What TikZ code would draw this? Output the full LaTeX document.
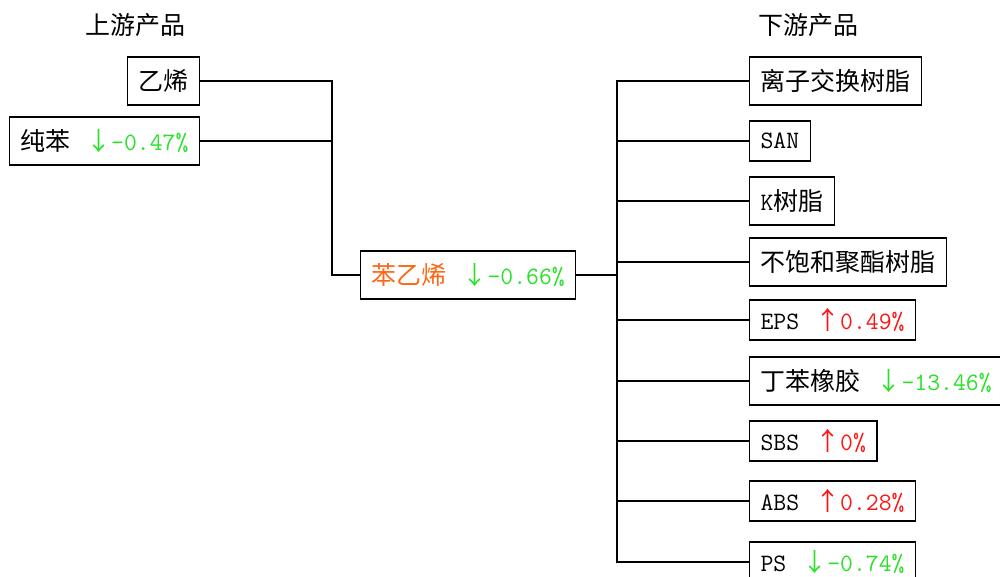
\documentclass[tikz,border=0pt]{standalone}
\usepackage{fontspec}
\newfontfamily\cjk{Noto Sans CJK SC}
\definecolor{upred}{RGB}{255,20,20}
\definecolor{dngreen}{RGB}{40,225,40}
\definecolor{keyorange}{RGB}{255,102,20}
\newcommand\zh[1]{{\cjk\fontsize{25}{25}\selectfont #1}}
\newcommand\dn[1]{\hspace{16pt}{\color{dngreen}\zh{↓}#1}}
\newcommand\up[1]{\hspace{16pt}{\color{upred}\zh{↑}#1}}

\begin{document}
\begin{tikzpicture}[x=1pt, y=-1pt, line width=1.2pt,
    prod/.style={draw, line width=1.2pt, minimum height=40pt, inner xsep=11pt,
                 font=\ttfamily\fontsize{25}{25}\selectfont},
    tall/.style={minimum height=48pt},
    head/.style={font=\cjk\fontsize{25}{25}\selectfont}]
\useasboundingbox (0,0) rectangle (1000,576);

\node[head] (up) at (135,25) {上游产品};
\node[head] (down) at (808,25) {下游产品};

% upstream
\node[prod, tall, anchor=east] (yixi) at (200,81) {\zh{乙烯}};
\node[prod, tall, anchor=east] (chunben) at (200,141) {\zh{纯苯}\dn{-0.47\%}};
% styrene
\node[prod, tall, anchor=west] (sm) at (360,275) {{\color{keyorange}\zh{苯乙烯}}\dn{-0.66\%}};

% downstream
\foreach \n/\y/\s/\t in {d1/81/tall/{\zh{离子交换树脂}},
                        d2/141/prod/{SAN},
                        d3/201/tall/{K\zh{树脂}},
                        d4/262/tall/{\zh{不饱和聚酯树脂}},
                        d5/320/prod/{EPS\up{0.49\%}},
                        d6/381/tall/{\zh{丁苯橡胶}\dn{-13.46\%}},
                        d7/441/prod/{SBS\up{0\%}},
                        d8/501/prod/{ABS\up{0.28\%}},
                        d9/562/prod/{PS\dn{-0.74\%}}}
    \node[prod, \s, anchor=west] (\n) at (749,\y) {\t};

\coordinate (jL) at (332,275);
\coordinate (jR) at (617,275);
\draw (yixi.east) -| (jL) -- (sm.west);
\draw (chunben.east) -| (jL);
\draw (sm.east) -- (jR);
\foreach \n in {d1,d2,d3,d4,d5,d6,d7,d8,d9}
    \draw (jR) |- (\n.west);
\end{tikzpicture}
\end{document}
